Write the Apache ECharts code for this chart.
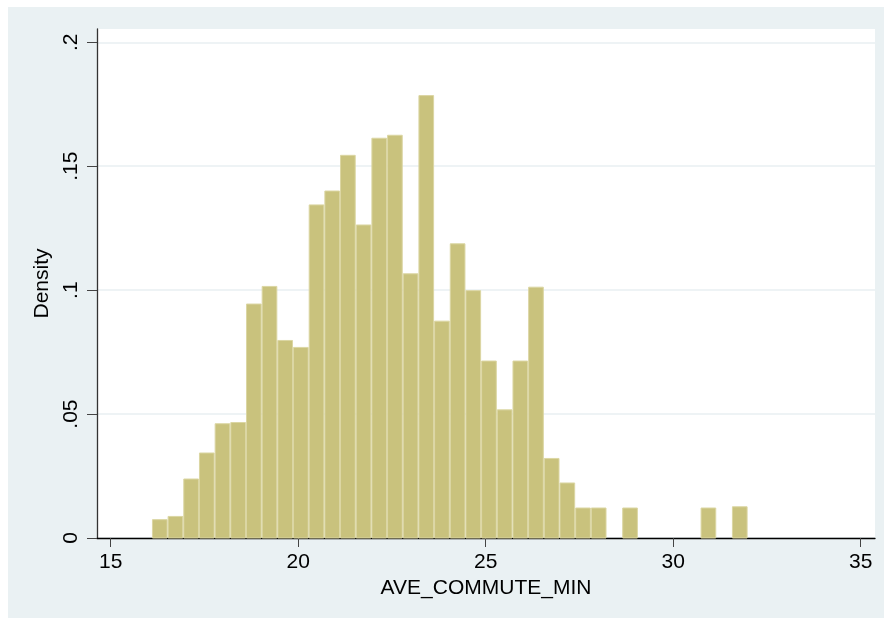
<!DOCTYPE html>
<html>
<head>
<meta charset="utf-8">
<script src="https://cdn.jsdelivr.net/npm/echarts@6/dist/echarts.min.js"></script>
<style>
html,body{margin:0;padding:0;background:#fff;}
#chart{width:886px;height:618px;}
</style>
</head>
<body>
<div id="chart"></div>
<script>
// Histogram of AVE_COMMUTE_MIN (density)
const binStart = 16.10;
const binWidth = 0.418;
const densities = [
  0.0074, 0.0087, 0.0238, 0.0343, 0.0461, 0.0466, 0.0944, 0.1015, 0.0797, 0.0769,
  0.1344, 0.1400, 0.1544, 0.1263, 0.1613, 0.1625, 0.1066, 0.1785, 0.0875, 0.1187,
  0.0998, 0.0714, 0.0517, 0.0714, 0.1012, 0.0321, 0.0222, 0.0121, 0.0121, 0,
  0.0121, 0, 0, 0, 0, 0.0121, 0, 0.0126
];
const xTicks = [15, 20, 25, 30, 35];
const yTicks = [0, 0.05, 0.1, 0.15, 0.2];
const yTickLabels = ['0', '.05', '.1', '.15', '.2'];
const xTitle = 'AVE_COMMUTE_MIN';
const yTitle = 'Density';

const binData = densities.map((d, i) => [binStart + i * binWidth, binStart + (i + 1) * binWidth, d]);

const FONT = "'Liberation Sans', Arial, Helvetica, sans-serif";
const chart = echarts.init(document.getElementById('chart'), null, {renderer: 'canvas'});
chart.setOption({
  backgroundColor: '#ffffff',
  animation: false,
  graphic: [{
    type: 'rect', z: -10, silent: true,
    shape: {x: 8, y: 7, width: 876, height: 611},
    style: {fill: '#eaf1f3'}
  }],
  grid: {
    left: 97, right: 11, top: 29, bottom: 80,
    show: true, backgroundColor: '#ffffff', borderWidth: 0
  },
  xAxis: {
    type: 'value',
    min: 14.635, max: 35.381,
    name: xTitle, nameLocation: 'middle', nameGap: 34,
    nameTextStyle: {fontSize: 21, color: '#000', fontFamily: FONT},
    axisLine: {show: true, onZero: false, lineStyle: {color: '#000', width: 1.3}},
    axisTick: {show: true, length: 9, inside: false, customValues: xTicks, lineStyle: {color: '#444', width: 1}},
    axisLabel: {customValues: xTicks, fontSize: 21, color: '#000', fontFamily: FONT, margin: 14,
      showMinLabel: true, showMaxLabel: true},
    splitLine: {show: false}
  },
  yAxis: {
    type: 'value',
    min: 0, max: 0.20537, interval: 0.05,
    name: yTitle, nameLocation: 'middle', nameGap: 34, nameRotate: 90,
    nameTextStyle: {fontSize: 21, color: '#000', fontFamily: FONT},
    axisLine: {show: true, onZero: false, lineStyle: {color: '#333', width: 1.3}},
    axisTick: {show: true, length: 10, inside: false, customValues: yTicks, lineStyle: {color: '#444', width: 1}},
    axisLabel: {customValues: yTicks, rotate: 90, fontSize: 21, color: '#000', fontFamily: FONT, margin: 15,
      formatter: function (v) {
        for (let i = 0; i < yTicks.length; i++) {
          if (Math.abs(v - yTicks[i]) < 1e-9) return yTickLabels[i];
        }
        return '';
      }},
    splitLine: {show: true, lineStyle: {color: '#e8eff2', width: 1.6}}
  },
  series: [{
    type: 'custom',
    data: binData,
    encode: {x: [0, 1], y: 2},
    renderItem: function (params, api) {
      const x0 = api.value(0), x1 = api.value(1), y = api.value(2);
      if (!y) return null;
      const p0 = api.coord([x0, y]);
      const p1 = api.coord([x1, 0]);
      return {
        type: 'rect',
        shape: {x: p0[0] + 0.5, y: p0[1], width: p1[0] - p0[0] - 1, height: p1[1] - p0[1]},
        style: {fill: '#c9c27d', stroke: '#dbd6a3', lineWidth: 1}
      };
    }
  }]
});
</script>
</body>
</html>
